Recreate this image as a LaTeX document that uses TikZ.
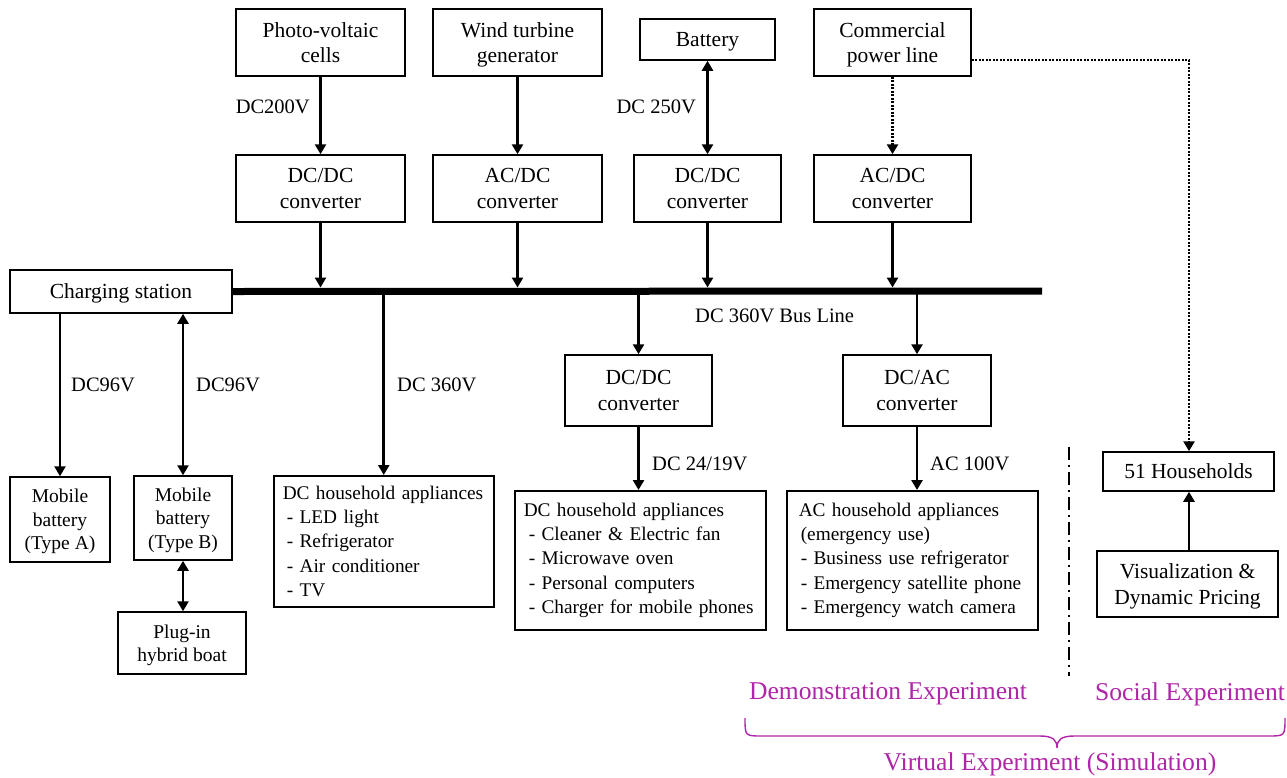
\documentclass[tikz,border=0pt]{standalone}
\usepackage{fontspec}
\setmainfont{Liberation Serif}
\usetikzlibrary{arrows.meta}
\definecolor{magC}{RGB}{176,38,168}
\begin{document}
\begin{tikzpicture}[x=1pt,y=-1pt,
  box/.style={draw, line width=1.5pt, inner sep=0pt, text depth=0pt, align=center, font=\fontsize{21.5}{25.5}\selectfont},
  sbox/.style={box, font=\fontsize{19.5}{23.5}\selectfont},
  lbox/.style={draw, line width=1.5pt, anchor=north west, inner xsep=9pt, inner ysep=0pt, align=left, font=\fontsize{19.3}{24.3}\selectfont},
  arr/.style={line width=2.6pt, -{Triangle[length=10pt,width=11pt]}},
  darr/.style={line width=2.6pt, {Triangle[length=10pt,width=11pt]}-{Triangle[length=10pt,width=11pt]}},
  dotarr/.style={arr, dash pattern=on 2pt off 1.5pt},
  lab/.style={font=\fontsize{20.5}{24}\selectfont, inner sep=0pt},
  magtext/.style={text=magC, font=\fontsize{25.6}{30}\selectfont, inner sep=0pt}
]
\useasboundingbox (0,0) rectangle (1287,777);

% top row
\node[box, minimum width=169pt, minimum height=67pt] (pv) at (320.5,42.5) {Photo-voltaic\\cells};
\node[box, minimum width=169pt, minimum height=67pt] (wind) at (517.5,42.5) {Wind turbine\\generator};
\node[box, minimum width=135pt, minimum height=41pt] (batt) at (707.5,39.5) {Battery};
\node[box, minimum width=157pt, minimum height=67pt] (comm) at (892.5,42.5) {Commercial\\power line};

% converters
\node[box, minimum width=169pt, minimum height=67pt] (c1) at (320.5,188.5) {DC/DC\\converter};
\node[box, minimum width=169pt, minimum height=67pt] (c2) at (517.5,188.5) {AC/DC\\converter};
\node[box, minimum width=147pt, minimum height=67pt] (c3) at (707.5,188.5) {DC/DC\\converter};
\node[box, minimum width=157pt, minimum height=67pt] (c4) at (892.5,188.5) {AC/DC\\converter};

% charging station and bus
\node[box, minimum width=222pt, minimum height=43pt] (cs) at (121,291.5) {Charging station};
\coordinate (busR) at (1042,291);
\coordinate (busT) at (0,287.5);
\coordinate (busM) at (0,291);
\draw[line width=7pt] (cs.east) -- (busR);

% lower converters
\node[box, minimum width=147pt, minimum height=71pt] (c5) at (638.5,390.5) {DC/DC\\converter};
\node[box, minimum width=148pt, minimum height=71pt] (c6) at (917,390.5) {DC/AC\\converter};

% mobile batteries and boat
\node[sbox, minimum width=100pt, minimum height=85pt] (mA) at (60,519.5) {Mobile\\battery\\(Type A)};
\node[sbox, minimum width=98pt, minimum height=84pt] (mB) at (183,518) {Mobile\\battery\\(Type B)};
\node[sbox, minimum width=128pt, minimum height=62pt] (boat) at (182,643) {Plug-in\\hybrid boat};

% appliance boxes
\node[lbox, text width=202pt, minimum height=131pt] (dc1) at (273,475) {DC household appliances\\\hspace*{4pt}- LED light\\\hspace*{4pt}- Refrigerator\\\hspace*{4pt}- Air conditioner\\\hspace*{4pt}- TV};
\node[lbox, text width=233pt, minimum height=139pt] (dc2) at (514,490) {DC household appliances\\\hspace*{5pt}- Cleaner \& Electric fan\\\hspace*{5pt}- Microwave oven\\\hspace*{5pt}- Personal computers\\\hspace*{5pt}- Charger for mobile phones};
\node[lbox, text width=233pt, minimum height=139pt] (ac) at (786,490) {\hspace*{3pt}AC household appliances\\\hspace*{5pt}(emergency use)\\\hspace*{5pt}- Business use refrigerator\\\hspace*{5pt}- Emergency satellite phone\\\hspace*{5pt}- Emergency watch camera};

% social experiment
\node[box, minimum width=171pt, minimum height=39pt] (hh) at (1188.5,471.5) {51 Households};
\node[box, minimum width=181pt, minimum height=66pt] (viz) at (1187.5,584) {Visualization \&\\Dynamic Pricing};

% connectors top
\draw[arr] (pv) -- (c1);
\draw[arr] (wind) -- (c2);
\draw[darr] (batt) -- (c3);
\draw[dotarr] (comm) -- (c4);
\foreach \c in {c1,c2,c3,c4} \draw[arr] (\c.south) -- (\c.south |- busT);

% connectors from bus
\draw[arr] (dc1.north |- busM) -- (dc1.north);
\draw[arr] (c5.north |- busM) -- (c5.north);
\draw[arr] (c6.north |- busM) -- (c6.north);
\draw[arr] (c5) -- (c5.south |- dc2.north);
\draw[arr] (c6) -- (c6.south |- ac.north);

% charging station connectors
\draw[arr] (mA.north |- cs.south) -- (mA.north);
\draw[darr] (mB.north |- cs.south) -- (mB.north);
\draw[darr] (mB.south) -- (mB.south |- boat.north);

% commercial to households
\coordinate (corner) at (1189,60);
\draw[dotarr] (comm.east |- corner) -- (corner) -- (corner |- hh.north);
\draw[arr] (viz.north -| corner) -- (corner |- hh.south);

% labels
\node[lab, anchor=east] at (310,107) {DC200V};
\node[lab, anchor=east] at (696,107) {DC 250V};
\node[lab, anchor=west] at (71,385) {DC96V};
\node[lab, anchor=west] at (196,385) {DC96V};
\node[lab, anchor=west] at (397,385) {DC 360V};
\node[lab, anchor=west] at (695,316) {DC 360V Bus Line};
\node[lab, anchor=west] at (652,464) {DC 24/19V};
\node[lab, anchor=west] at (930,464) {AC 100V};

% separator
\coordinate (sepT) at (1069,447);
\coordinate (sepB) at (1069,676);
\draw[line width=1.8pt, dash pattern=on 13pt off 5pt on 2pt off 5pt] (sepT) -- (sepB);

% experiment labels
\node[magtext] (demo) at (888,694) {Demonstration Experiment};
\node[magtext] (soc) at (1190,694) {Social Experiment};
\node[magtext] (virt) at (1050,764) {Virtual Experiment (Simulation)};
\draw[magC, line width=1.4pt] (745,718) .. controls (745,736) .. (762,736) -- (1040,736)
  .. controls (1053,736) and (1057,740) .. (1057,748)
  .. controls (1057,740) and (1061,736) .. (1074,736) -- (1268,736)
  .. controls (1285,736) .. (1285,718);
\end{tikzpicture}
\end{document}
